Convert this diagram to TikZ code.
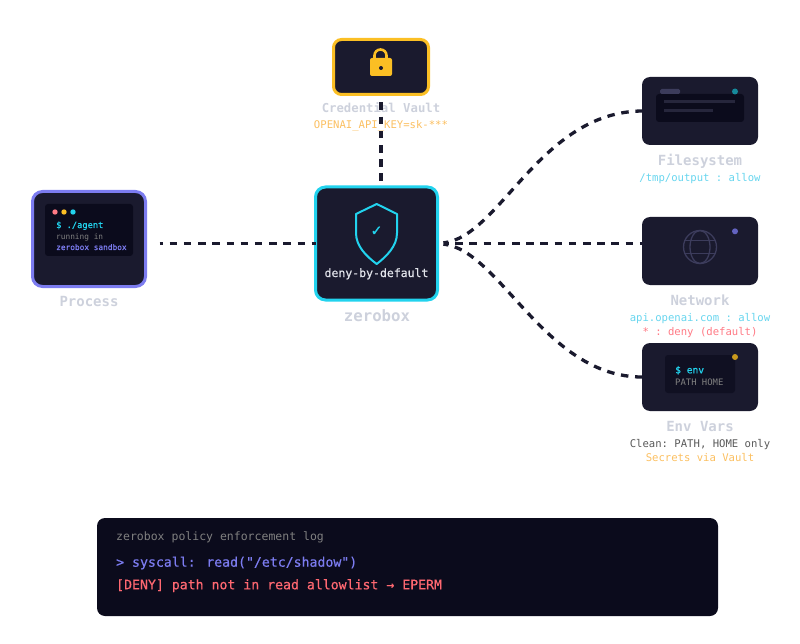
\documentclass[tikz,border=0pt]{standalone}
\usepackage{fontspec}
\setmonofont{DejaVu Sans Mono}
\newfontfamily\symfont[FakeBold=1.2]{DejaVu Sans}
\newfontfamily\logfont[FakeBold=0.5]{DejaVu Sans Mono}
\definecolor{boxdark}{HTML}{1A1A2E}
\definecolor{panel}{HTML}{0B0B1C}
\definecolor{indigo}{HTML}{7C7CF0}
\definecolor{amber}{HTML}{FBBF24}
\definecolor{cyanline}{HTML}{22D3EE}
\definecolor{soft}{HTML}{CDD1DC}
\definecolor{softcyan}{HTML}{67D5EE}
\definecolor{softamber}{HTML}{FBBF60}
\definecolor{softred}{HTML}{FF7A85}
\definecolor{faint}{HTML}{3C3C5C}
\definecolor{dimline}{HTML}{26263C}
\tikzset{
  darkbox/.style  = {shape=rectangle, rounded corners=8pt, fill=boxdark,
                     outer sep=0pt, inner sep=0pt},
  mainbox/.style  = {darkbox, rounded corners=10pt, line width=3pt},
  panelbox/.style = {shape=rectangle, rounded corners=3pt, fill=panel,
                     outer sep=0pt, inner sep=0pt},
  bar/.style      = {shape=rectangle, fill=#1, outer sep=0pt, inner sep=0pt},
  led/.style      = {shape=circle, fill=#1, minimum size=6pt, outer sep=0pt, inner sep=0pt},
  title/.style    = {anchor=base, text=soft, font=\ttfamily\bfseries\fontsize{#1}{#1}\selectfont},
  note/.style     = {anchor=base, text=#1, font=\ttfamily\fontsize{10.6}{12}\selectfont},
  term/.style     = {anchor=base west, text=#1},
  link/.style     = {draw=boxdark, line width=3.3pt, dash pattern=on 7.5pt off 6.7pt}
}
\begin{document}
\begin{tikzpicture}
  [
    x = 1pt,
    y = -1pt,
    every node/.style = {inner sep=0pt}
  ]
  \useasboundingbox (0,0) rectangle (800,644);

  % boxes
  \node [mainbox, draw=indigo, minimum width=113pt, minimum height=95pt] (process) at (89,239) {};
  \node [mainbox, draw=amber, rounded corners=8pt, minimum width=95pt, minimum height=55pt] (vault) at (381,67) {};
  \node [mainbox, draw=cyanline, minimum width=122pt, minimum height=113pt] (zerobox) at (376.5,243.5) {};
  \node [darkbox, minimum width=116pt, minimum height=68pt] (filesystem) at (700,111) {};
  \node [darkbox, minimum width=116pt, minimum height=68pt] (network) at (700,251) {};
  \node [darkbox, minimum width=116pt, minimum height=68pt] (envvars) at (700,377) {};
  \node [panelbox, rounded corners=8pt, minimum width=621pt, minimum height=98pt] (logbox) at (407.5,567) {};

  % process terminal
  \node [panelbox, minimum width=88pt, minimum height=52pt] (procpanel) at (89,230) {};
  \node [led=softred, minimum size=5.4pt] (dotred) at (55,212) {};
  \node [led=amber, minimum size=5.4pt] (dotamber) at (64,212) {};
  \node [led=cyanline, minimum size=5.4pt] (dotcyan) at (73,212) {};
  \node [term=cyanline, font=\logfont\fontsize{8.7}{10}\selectfont] (agent) at (56,228) {\$ ./agent};
  \node [term=gray, font=\ttfamily\fontsize{7.8}{10}\selectfont] (running) at (56,239.3) {running in};
  \node [term=indigo, font=\logfont\fontsize{7.8}{10}\selectfont] (sandbox) at (56,250) {zerobox sandbox};
  \node [title=14] (processlabel) at (89,306) {Process};

  % vault
  \draw [amber, line width=2.6pt] (374.5,60) -- (374.5,55.5) arc [start angle=180, end angle=360, radius=6] -- (386.5,60);
  \node [bar=amber, rounded corners=2pt, minimum width=22pt, minimum height=18pt] (lockbody) at (381,67) {};
  \node [led=boxdark, minimum size=4pt] (keyhole) at (381,68) {};
  \node [title=12.3] (vaultlabel) at (381,112.3) {Credential Vault};
  \node [note=softamber] (vaultnote) at (381,128.7) {OPENAI\_API\_KEY=sk-***};

  % shield
  \draw [cyanline, line width=2pt, line join=round] (376.7,204) -- (397,214) -- (397,233)
    .. controls (397,246) and (387,256) .. (376.7,264)
    .. controls (366,256) and (356,246) .. (356,233) -- (356,214) -- cycle;
  \node [text=cyanline, font=\symfont\fontsize{14}{14}\selectfont] (check) at (376.5,231) {✓};
  \node [anchor=base, text=soft!60!white, font=\logfont\fontsize{11.5}{13}\selectfont] (deny) at (376.5,277) {deny-by-default};
  \node [title=15.7] (zeroboxlabel) at (377,321.7) {zerobox};

  % filesystem
  \node [panelbox, minimum width=88pt, minimum height=28pt] (fspanel) at (700,108) {};
  \node [bar=faint, rounded corners=1.5pt, minimum width=20pt, minimum height=5pt] (fstab) at (670,91.5) {};
  \node [led=cyanline!65!black] (fsled) at (735,91.5) {};
  \node [bar=dimline, minimum width=71pt, minimum height=3pt] (fsline) at (699.5,102) {};
  \node [bar=dimline, minimum width=49pt, minimum height=3pt] (fsshort) at (688.5,111) {};
  \node [title=14] (fslabel) at (700,165.7) {Filesystem};
  \node [note=softcyan] (fsnote) at (700,182) {/tmp/output : allow};

  % network
  \draw [faint, line width=1.3pt] (700,247) circle [radius=16.5];
  \draw [faint, line width=1.3pt] (700,247) ellipse [x radius=10, y radius=16.5];
  \draw [faint, line width=1.3pt] (684.9,240.3) -- (715.1,240.3) (684.9,253.7) -- (715.1,253.7);
  \node [led=indigo!80!black] (netled) at (735,231.3) {};
  \node [title=14] (netlabel) at (700,305.5) {Network};
  \node [note=softcyan] (netallow) at (700,321.7) {api.openai.com : allow};
  \node [note=softred] (netdeny) at (700,335) {* : deny (default)};

  % env vars
  \node [panelbox, fill=panel!65!boxdark, minimum width=70pt, minimum height=38pt] (envpanel) at (700,374) {};
  \node [led=amber!80!black] (envled) at (735,357) {};
  \node [term=cyanline, font=\logfont\fontsize{9.6}{11}\selectfont] (envcmd) at (675,373.3) {\$ env};
  \node [term=gray, font=\ttfamily\fontsize{8.9}{11}\selectfont] (envout) at (675,385.7) {PATH HOME};
  \node [title=14] (envlabel) at (700,431) {Env Vars};
  \node [note=black!65] (envclean) at (700,447.7) {Clean: PATH, HOME only};
  \node [note=softamber] (envsecret) at (700,461) {Secrets via Vault};

  % log
  \node [term=gray, font=\ttfamily\fontsize{11.5}{13}\selectfont] (logtitle) at (116,540) {zerobox policy enforcement log};
  \node [term=indigo, font=\logfont\fontsize{13.2}{15}\selectfont] (logcall) at (116,566.7) {> syscall: read("/etc/shadow")};
  \node [term=softred!85!red, font=\logfont\fontsize{13.2}{15}\selectfont] (logdeny) at (116,589.3) {[DENY] path not in read allowlist → EPERM};

  % links
  \draw [link, dash phase=4pt, shorten <=14pt] (process.east |- zerobox) -- (zerobox.west);
  \draw [link, shorten <=8pt] (vault.south) -- (vault.south |- zerobox.north);
  \draw [link, dash phase=2.5pt, shorten <=6pt] (zerobox.east) .. controls (500,237) and (540,112) .. (filesystem.west);
  \draw [link, dash phase=2.5pt, shorten <=6pt] (zerobox.east) -- (network.west |- zerobox);
  \draw [link, dash phase=2.5pt, shorten <=6pt] (zerobox.east) .. controls (500,250) and (545,377) .. (envvars.west);
\end{tikzpicture}
\end{document}
